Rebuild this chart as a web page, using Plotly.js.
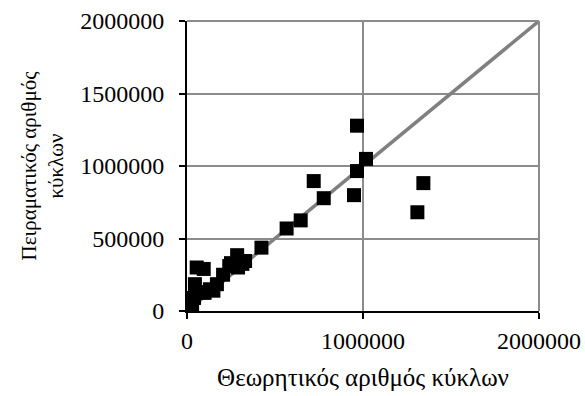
<!DOCTYPE html>
<html><head><meta charset="utf-8">
<script src="https://cdn.plot.ly/plotly-3.0.1.min.js"></script>
<style>body{margin:0;padding:0;background:#fff}#chart{width:585px;height:396px}</style>
</head><body><div id="chart"></div>
<script>
const theoretical = [29000, 40000, 45000, 55000, 95000, 70000, 100000, 130000, 150000, 170000, 205000, 240000, 250000, 285000, 290000, 315000, 330000, 423000, 566000, 646000, 720000, 777000, 949000, 966000, 966000, 1017000, 1309000, 1343000];
const experimental = [35000, 90000, 185000, 300000, 290000, 130000, 125000, 150000, 140000, 185000, 250000, 310000, 330000, 385000, 300000, 325000, 345000, 437000, 569000, 625000, 896000, 778000, 799000, 965000, 1278000, 1049000, 681000, 882000];
const lineX = [0, 2000000];
const lineY = [0, 2000000];
const xTicks = [0, 1000000, 2000000];
const yTicks = [0, 500000, 1000000, 1500000, 2000000];
const font = 'Liberation Serif, Times New Roman, serif';

Plotly.newPlot('chart', [
  {x: lineX, y: lineY, mode: 'lines', line: {color: '#808080', width: 3.5}, hoverinfo: 'skip', showlegend: false},
  {x: theoretical, y: experimental, mode: 'markers', marker: {symbol: 'square', size: 14, color: '#000'}, showlegend: false}
], {
  width: 585, height: 396,
  margin: {l: 187, r: 46, t: 21, b: 85},
  paper_bgcolor: '#fff', plot_bgcolor: '#fff',
  font: {family: font, size: 24, color: '#000'},
  xaxis: {range: [0, 2000000], tickvals: xTicks, ticktext: xTicks.map(String), showgrid: true, gridcolor: '#8c8c8c', gridwidth: 2,
    zeroline: false, showline: true, linecolor: '#000', linewidth: 2, ticks: 'outside', ticklen: 6, tickwidth: 2, tickcolor: '#000',
    ticklabelstandoff: 1, tickfont: {family: font, size: 24},
    title: {text: 'Θεωρητικός αριθμός κύκλων', font: {family: font, size: 25}, standoff: 16}},
  yaxis: {range: [0, 2000000], tickvals: yTicks, ticktext: yTicks.map(String), showgrid: true, gridcolor: '#8c8c8c', gridwidth: 2,
    zeroline: false, showline: true, linecolor: '#000', linewidth: 2, ticks: 'outside', ticklen: 6, tickwidth: 2, tickcolor: '#000',
    ticklabelstandoff: 10, tickfont: {family: font, size: 24},
    title: {text: 'Πειραματικός αριθμός<br>κύκλων', font: {family: font, size: 21}, standoff: 11}},
  shapes: [
    {type: 'line', xref: 'paper', yref: 'paper', x0: 0, x1: 1, y0: 1, y1: 1, line: {color: '#8c8c8c', width: 2}},
    {type: 'line', xref: 'paper', yref: 'paper', x0: 1, x1: 1, y0: 0, y1: 1, line: {color: '#8c8c8c', width: 2}}
  ]
}, {displayModeBar: false, staticPlot: true});
</script></body></html>
